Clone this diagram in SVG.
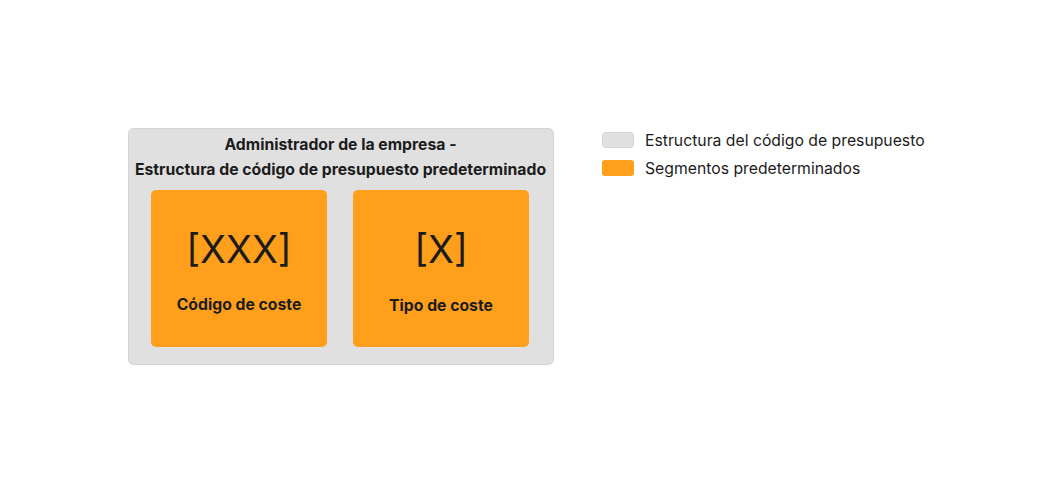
<svg xmlns="http://www.w3.org/2000/svg" width="1054" height="494" viewBox="0 0 1054 494">
<style>
text{font-family:Inter,"Noto Sans","Liberation Sans",sans-serif;fill:#1c1c1c}
.t{font-size:15.75px;font-weight:700;text-anchor:middle}
.big{font-size:38px;font-weight:400;text-anchor:middle}
.lg{font-size:15.75px;font-weight:400}
.seg{fill:#ff9f1c}
.gray{fill:#e0e0e0;stroke:#d4d4d4;stroke-width:1}
</style>
<rect width="1054" height="494" fill="#ffffff"/>
<g id="estructura">
<rect class="gray" x="128.5" y="128.5" width="425" height="236" rx="5"/>
<text class="t" x="340.5" y="150">Administrador de la empresa -</text>
<text class="t" x="340.5" y="175">Estructura de código de presupuesto predeterminado</text>
</g>
<g id="codigo">
<rect class="seg" x="151" y="190" width="176" height="157" rx="5"/>
<text class="big" x="239" y="263">[XXX]</text>
<text class="t" x="239" y="310">Código de coste</text>
</g>
<g id="tipo">
<rect class="seg" x="353" y="190" width="176" height="157" rx="5"/>
<text class="big" x="441" y="263">[X]</text>
<text class="t" x="441" y="311">Tipo de coste</text>
</g>
<g id="connectors"></g>
<g id="leyenda">
<rect class="gray" x="602.5" y="132.5" width="31" height="15" rx="3"/>
<text class="lg" x="645" y="146">Estructura del código de presupuesto</text>
<rect class="seg" x="602" y="160" width="32" height="16" rx="3"/>
<text class="lg" x="645" y="174">Segmentos predeterminados</text>
</g>
</svg>
